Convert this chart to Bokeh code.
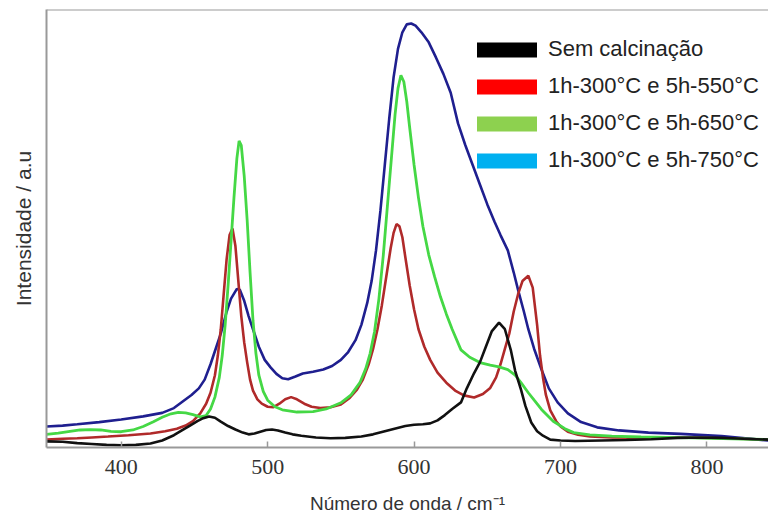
from bokeh.plotting import figure
from bokeh.models import Range1d, Span, Legend, LegendItem, FixedTicker
from bokeh.embed import file_html
from bokeh.resources import INLINE

# Raman spectra: wavenumber (cm-1) and intensity (a.u.) for each sample
wn_sem = [349, 360, 370, 380, 390, 400, 410, 420, 428, 436, 442, 447, 452, 456, 460, 464,
          468, 473, 478, 483, 487, 491, 495, 499, 503, 507, 512, 517, 523, 533, 543, 553,
          564, 572, 580, 588, 594, 600, 606, 611, 616, 621, 626, 632, 636, 641, 645, 649,
          653, 658, 662, 666, 669, 673, 676, 680, 684, 688, 693, 700, 710, 728, 745, 762,
          780, 796, 810, 825, 842]
int_sem = [1.4, 1.3, 1.0, 0.8, 0.6, 0.5, 0.6, 0.9, 1.6, 2.8, 4.0, 5.0, 6.0, 6.7, 7.1, 6.8,
           5.9, 4.9, 4.1, 3.4, 3.0, 3.2, 3.6, 4.0, 4.1, 3.9, 3.4, 3.0, 2.7, 2.3, 2.1, 2.2,
           2.5, 3.0, 3.7, 4.4, 4.9, 5.2, 5.3, 5.5, 6.2, 7.4, 8.8, 10.3, 13.5, 17.0, 19.5, 23.0,
           26.5, 28.5, 27.0, 22.3, 17.5, 13.2, 9.5, 5.7, 3.7, 2.7, 1.8, 1.6, 1.5, 1.6, 1.7, 1.9,
           2.2, 2.3, 2.2, 2.0, 1.8]

wn_550 = [349, 360, 370, 380, 391, 405, 420, 430, 438, 444, 449, 454, 458, 461, 464, 466,
          468, 470, 472, 474, 476, 478, 480, 482, 484, 486, 488, 490, 493, 496, 500, 504,
          508, 512, 516, 520, 525, 530, 536, 543, 550, 556, 561, 565, 569, 572, 575, 578,
          581, 584, 586, 588, 590, 592, 594, 597, 600, 603, 607, 611, 616, 622, 628, 634,
          641, 647, 652, 656, 659, 662, 665, 668, 671, 674, 678, 681, 684, 686, 688, 690,
          693, 697, 700, 705, 712, 720, 735, 760, 782, 810, 842]
int_550 = [1.8, 2.0, 2.1, 2.3, 2.5, 2.8, 3.2, 3.7, 4.3, 5.0, 6.0, 7.8, 10.0, 12.5, 16.5, 21.0,
           27.0, 35.0, 43.0, 48.5, 50.0, 46.0, 38.0, 30.0, 24.0, 19.5, 15.5, 13.0, 11.0, 10.0, 9.3, 9.2,
           10.0, 11.0, 11.5, 11.0, 10.0, 9.3, 9.0, 9.2, 9.8, 11.3, 13.2, 15.5, 19.0, 22.5, 27.0, 32.5,
           39.0, 45.5, 49.0, 51.0, 50.5, 48.0, 43.5, 37.0, 31.5, 27.0, 23.0, 20.0, 17.1, 14.8, 13.0, 11.9,
           11.4, 12.2, 13.6, 16.0, 19.0, 22.5, 26.0, 31.0, 35.0, 38.0, 39.2, 36.5, 28.0, 21.0, 16.0, 12.0,
           8.5, 6.0, 4.8, 3.6, 2.9, 2.5, 2.3, 2.2, 2.3, 2.1, 1.8]

wn_650 = [349, 357, 365, 372, 379, 386, 393, 400, 408, 415, 422, 428, 434, 439, 444, 449,
          454, 458, 461, 464, 467, 469, 471, 473, 475, 477, 479, 480.5, 482, 484, 486, 488,
          490, 492, 494, 497, 500, 505, 510, 520, 531, 540, 550, 557, 563, 567, 570, 573,
          576, 579, 582, 585, 587, 589, 591, 593, 595, 597, 600, 603, 606, 610, 614, 618,
          622, 626, 632, 638, 645, 652, 658, 664, 669, 673, 678, 682, 687, 695, 703, 709,
          720, 735, 755, 790, 842]
int_650 = [3.0, 3.3, 3.7, 4.0, 4.1, 4.0, 3.7, 3.6, 4.0, 4.8, 5.9, 6.9, 7.7, 8.0, 7.9, 7.5,
           7.0, 7.3, 8.8, 11.5, 16.0, 21.0, 28.0, 37.0, 47.0, 57.0, 66.0, 70.0, 69.0, 62.0, 52.0, 40.0,
           29.0, 21.5, 16.5, 12.8, 10.8, 9.3, 8.6, 8.1, 8.2, 8.8, 10.2, 12.0, 14.8, 18.0, 21.5, 26.5,
           34.0, 44.0, 56.0, 68.0, 76.0, 82.0, 85.0, 83.5, 79.0, 73.0, 64.5, 57.0, 50.5, 44.0, 39.0, 34.4,
           30.5, 27.0, 22.3, 20.6, 19.4, 18.8, 18.4, 17.8, 16.5, 14.8, 12.5, 10.8, 8.7, 6.0, 4.3, 3.4,
           2.9, 2.6, 2.4, 2.2, 1.8]

wn_750 = [349, 360, 370, 385, 400, 415, 428, 436, 442, 448, 453, 457, 461, 465, 468, 472,
          475, 479, 481, 484, 487, 490, 494, 498, 502, 506, 510, 514, 519, 524, 531, 538,
          544, 550, 555, 560, 564, 568, 571, 574, 577, 580, 583, 586, 589, 592, 595, 598,
          601, 605, 610, 615, 620, 625, 630, 635, 640, 645, 650, 655, 659, 664, 668, 671,
          675, 678, 682, 687, 692, 698, 705, 714, 725, 740, 760, 782, 810, 842]
int_750 = [4.8, 5.0, 5.3, 5.8, 6.4, 7.1, 7.9, 9.0, 10.5, 12.0, 13.5, 15.5, 19.0, 23.0, 26.0, 31.0,
           34.0, 36.2, 36.0, 33.5, 30.0, 27.0, 23.0, 20.0, 18.3, 16.8, 15.8, 15.6, 16.2, 16.9, 17.3, 17.8,
           18.6, 20.0, 21.8, 24.5, 28.0, 33.0, 38.0, 45.0, 54.0, 64.5, 75.0, 84.5, 91.0, 94.8, 96.6, 96.8,
           96.3, 94.8, 92.5, 89.0, 85.3, 81.0, 74.0, 69.0, 64.5, 60.0, 55.5, 51.5, 48.5, 45.0, 40.0, 36.0,
           31.0, 27.0, 22.5, 17.8, 13.5, 10.3, 7.8, 5.8, 4.6, 3.9, 3.4, 3.1, 2.6, 1.6]

legend_labels = ["Sem calcinação", "1h-300°C e 5h-550°C", "1h-300°C e 5h-650°C", "1h-300°C e 5h-750°C"]
legend_colors = ["#000000", "#ff0000", "#8dd14f", "#00b0f0"]
x_ticks = [400, 500, 600, 700, 800]

AXIS_GRAY = "#999999"
TEXT = "#333333"
SANS = "Liberation Sans"
SERIF = "Liberation Serif"

p = figure(width=768, height=516, x_range=Range1d(349, 842), y_range=Range1d(0, 100),
           output_backend="svg", toolbar_location=None,
           min_border_left=46, min_border_right=0, min_border_top=9, min_border_bottom=68)
p.outline_line_color = None
p.grid.visible = False
p.background_fill_color = "white"
p.border_fill_color = "white"

# spectra
p.line(wn_750, int_750, line_color="#1f1f8f", line_width=2.6)
p.line(wn_550, int_550, line_color="#b02a2a", line_width=2.6)
p.line(wn_650, int_650, line_color="#45d845", line_width=2.8)
p.line(wn_sem, int_sem, line_color="#111111", line_width=2.6)

# top frame edge
p.add_layout(Span(location=100, dimension="width", line_color=AXIS_GRAY, line_width=2))

# x axis
xa = p.xaxis[0]
xa.ticker = FixedTicker(ticks=x_ticks)
xa.axis_line_color = AXIS_GRAY
xa.axis_line_width = 2
xa.major_tick_line_color = AXIS_GRAY
xa.major_tick_line_width = 1.5
xa.major_tick_in = 6
xa.major_tick_out = 0
xa.minor_tick_line_color = None
xa.major_label_text_font = SERIF
xa.major_label_text_font_size = "22px"
xa.major_label_text_color = TEXT
xa.major_label_standoff = 12
xa.axis_label = "Número de onda / cm⁻¹"
xa.axis_label_text_font = SANS
xa.axis_label_text_font_style = "normal"
xa.axis_label_text_font_size = "19px"
xa.axis_label_text_color = TEXT
xa.axis_label_standoff = 16

# y axis: plain line with title
ya = p.yaxis[0]
ya.ticker = FixedTicker(ticks=[])
ya.axis_line_color = AXIS_GRAY
ya.axis_line_width = 2
ya.major_tick_line_color = None
ya.minor_tick_line_color = None
ya.axis_label = "Intensidade / a.u"
ya.axis_label_text_font = SANS
ya.axis_label_text_font_style = "normal"
ya.axis_label_text_font_size = "21px"
ya.axis_label_text_color = TEXT
ya.axis_label_standoff = 12

# legend swatches
nan = float("nan")
items = []
for lab, col in zip(legend_labels, legend_colors):
    r = p.quad(left=[nan], right=[nan], top=[nan], bottom=[nan], fill_color=col, line_color=None)
    items.append(LegendItem(label=lab, renderers=[r]))
leg = Legend(items=items, location=(423, 274), glyph_width=75, glyph_height=19,
             label_standoff=4, label_height=24, spacing=11, padding=0, margin=0,
             label_text_font=SANS, label_text_font_size="22px", label_text_color="#222222",
             border_line_color=None, background_fill_alpha=0)
p.add_layout(leg)

open("out.html", "w").write(file_html(p, INLINE))
